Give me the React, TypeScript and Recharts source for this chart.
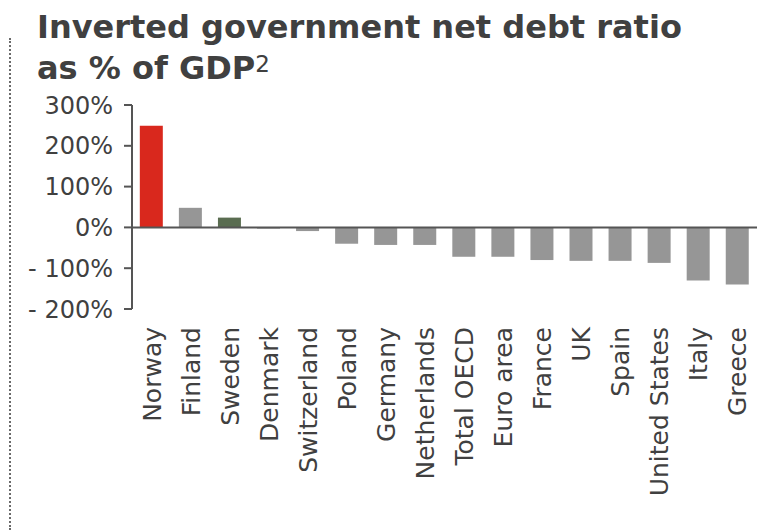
import { Bar, BarChart, Cell, ReferenceLine, XAxis, YAxis } from "recharts";

const countries = [
  "Norway",
  "Finland",
  "Sweden",
  "Denmark",
  "Switzerland",
  "Poland",
  "Germany",
  "Netherlands",
  "Total OECD",
  "Euro area",
  "France",
  "UK",
  "Spain",
  "United States",
  "Italy",
  "Greece",
];
const netDebtRatio = [249, 48, 24, -3, -9, -40, -43, -43, -72, -72, -80, -82, -82, -87, -130, -140];
const yTicks = [-200, -100, 0, 100, 200, 300];

const highlight: Record<string, string> = { Norway: "#d9281d", Sweden: "#5a6d51" };
const barGrey = "#969696";
const ink = "#404040";
const axisGrey = "#555555";
const font = "'DejaVu Sans', Verdana, sans-serif";

const data = countries.map((country, i) => ({ country, value: netDebtRatio[i] }));

function CountryTick(props: any) {
  const { x, y, payload } = props;
  return (
    <text
      x={x}
      y={y}
      dy="0.36em"
      transform={`rotate(-90, ${x}, ${y})`}
      textAnchor="end"
      fill={ink}
      fontSize={25}
      fontFamily={font}
    >
      {payload.value}
    </text>
  );
}

// negative labels in the source have a gap after the minus sign
const pct = (v: number) => (v < 0 ? `-  ${Math.abs(v)}%` : `${v}%`);

export default function App() {
  return (
    <div style={{ position: "absolute", left: 0, top: 0, width: 781, height: 530, background: "#fff" }}>
      <div
        style={{
          position: "absolute",
          left: 37,
          top: 9,
          fontFamily: font,
          fontWeight: "bold",
          fontSize: 32,
          lineHeight: "37px",
          color: ink,
          whiteSpace: "nowrap",
        }}
      >
        Inverted government net debt ratio
        <br />
        as % of GDP<span style={{ fontWeight: "normal", fontSize: 23, verticalAlign: "7px" }}>2</span>
      </div>
      <div
        style={{
          position: "absolute",
          left: 9,
          top: 38,
          height: 492,
          borderLeft: "2px dotted #6a6a6a",
        }}
      />
      <div style={{ position: "absolute", left: 0, top: 0 }}>
        <BarChart
          width={781}
          height={530}
          data={data}
          margin={{ top: 105, right: 24, bottom: 0, left: 0 }}
          barCategoryGap="20%"
        >
          <XAxis
            dataKey="country"
            axisLine={false}
            tickLine={false}
            tickSize={0}
            tickMargin={18}
            interval={0}
            height={221}
            tick={<CountryTick />}
          />
          <YAxis
            domain={[-200, 300]}
            ticks={yTicks}
            width={132}
            allowDataOverflow
            axisLine={{ stroke: axisGrey, strokeWidth: 2 }}
            tickLine={{ stroke: axisGrey, strokeWidth: 2 }}
            tickSize={8}
            tickMargin={11}
            tick={{ fill: ink, fontSize: 24, fontFamily: font, style: { whiteSpace: "pre" } }}
            tickFormatter={pct}
          />
          <ReferenceLine y={0} stroke={axisGrey} strokeWidth={2} />
          <Bar dataKey="value" isAnimationActive={false}>
            {data.map((d) => (
              <Cell key={d.country} fill={highlight[d.country] ?? barGrey} />
            ))}
          </Bar>
        </BarChart>
      </div>
    </div>
  );
}
